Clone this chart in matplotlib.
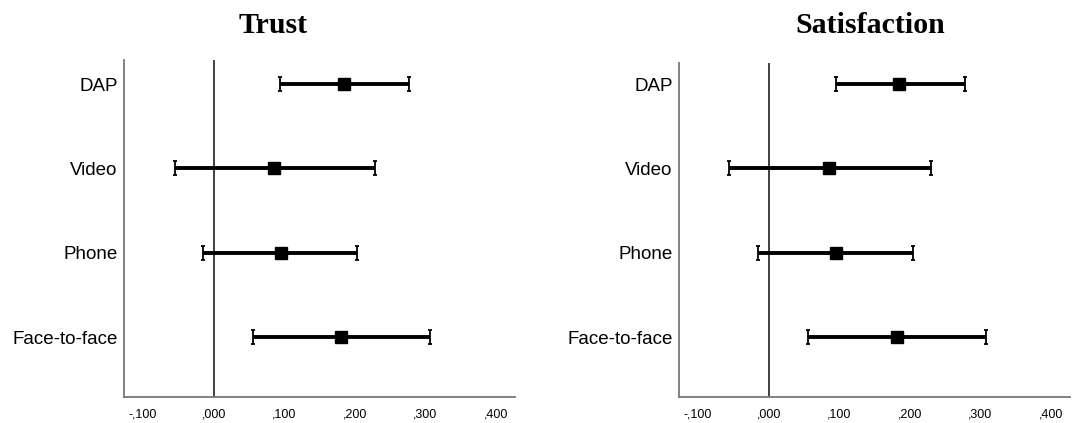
import matplotlib
matplotlib.use('Agg')
import matplotlib.pyplot as plt
from matplotlib.path import Path

# Estimates with 95% confidence intervals
categories = ['Face-to-face', 'Phone', 'Video', 'DAP']

trust_mean = [0.181, 0.096, 0.086, 0.185]
trust_low = [0.056, -0.015, -0.055, 0.094]
trust_high = [0.307, 0.203, 0.229, 0.277]

satis_mean = [0.182, 0.095, 0.086, 0.185]
satis_low = [0.056, -0.015, -0.056, 0.095]
satis_high = [0.308, 0.204, 0.230, 0.278]

xticks = [-0.1, 0.0, 0.1, 0.2, 0.3, 0.4]
xtick_labels = ['-,100', ',000', ',100', ',200', ',300', ',400']

# "I"-shaped cap marker like SPSS
cap = Path([(-0.3, 1), (0.3, 1), (0, 1), (0, -1), (-0.3, -1), (0.3, -1)],
           [Path.MOVETO, Path.LINETO, Path.MOVETO, Path.LINETO, Path.MOVETO, Path.LINETO])

fig = plt.figure(figsize=(10.89, 4.23), dpi=100)
ax1 = fig.add_axes([124 / 1089, 26 / 423, 391 / 1089, 337 / 423])
ax2 = fig.add_axes([679 / 1089, 26 / 423, 391 / 1089, 334 / 423])


def draw(ax, mean, low, high, title, title_x, ytop):
    ypos = list(range(len(categories)))
    ax.axvline(0, color='#333333', lw=1.3, zorder=1)
    ax.hlines(ypos, low, high, color='black', lw=2.8, zorder=2)
    ax.plot(low, ypos, ls='none', marker=cap, ms=10.5, mec='black', mew=1.3, zorder=3)
    ax.plot(high, ypos, ls='none', marker=cap, ms=10.5, mec='black', mew=1.3, zorder=3)
    ax.plot(mean, ypos, ls='none', marker='s', ms=8, color='black', zorder=4)

    ax.set_xlim(-0.127, 0.427)
    ax.set_ylim(-0.71, ytop)
    ax.set_xticks(xticks)
    ax.set_xticklabels(xtick_labels, fontsize=9, family='Liberation Sans')
    ax.set_yticks(ypos)
    ax.set_yticklabels(categories, fontsize=13.5, family='Liberation Sans')
    ax.tick_params(length=0)
    ax.tick_params(axis='x', pad=8)
    ax.tick_params(axis='y', pad=4.5)
    for s in ['top', 'right']:
        ax.spines[s].set_visible(False)
    for s in ['left', 'bottom']:
        ax.spines[s].set_color('#777777')
        ax.spines[s].set_linewidth(1.3)

    fig.text(title_x, 0.94, title, ha='center', va='center', fontsize=21.5,
             fontweight='bold', family='Liberation Serif')


draw(ax1, trust_mean, trust_low, trust_high, 'Trust', 273 / 1089, 3.285)
draw(ax2, satis_mean, satis_low, satis_high, 'Satisfaction', 870 / 1089, 3.25)

fig.savefig('out.png', dpi=100)
